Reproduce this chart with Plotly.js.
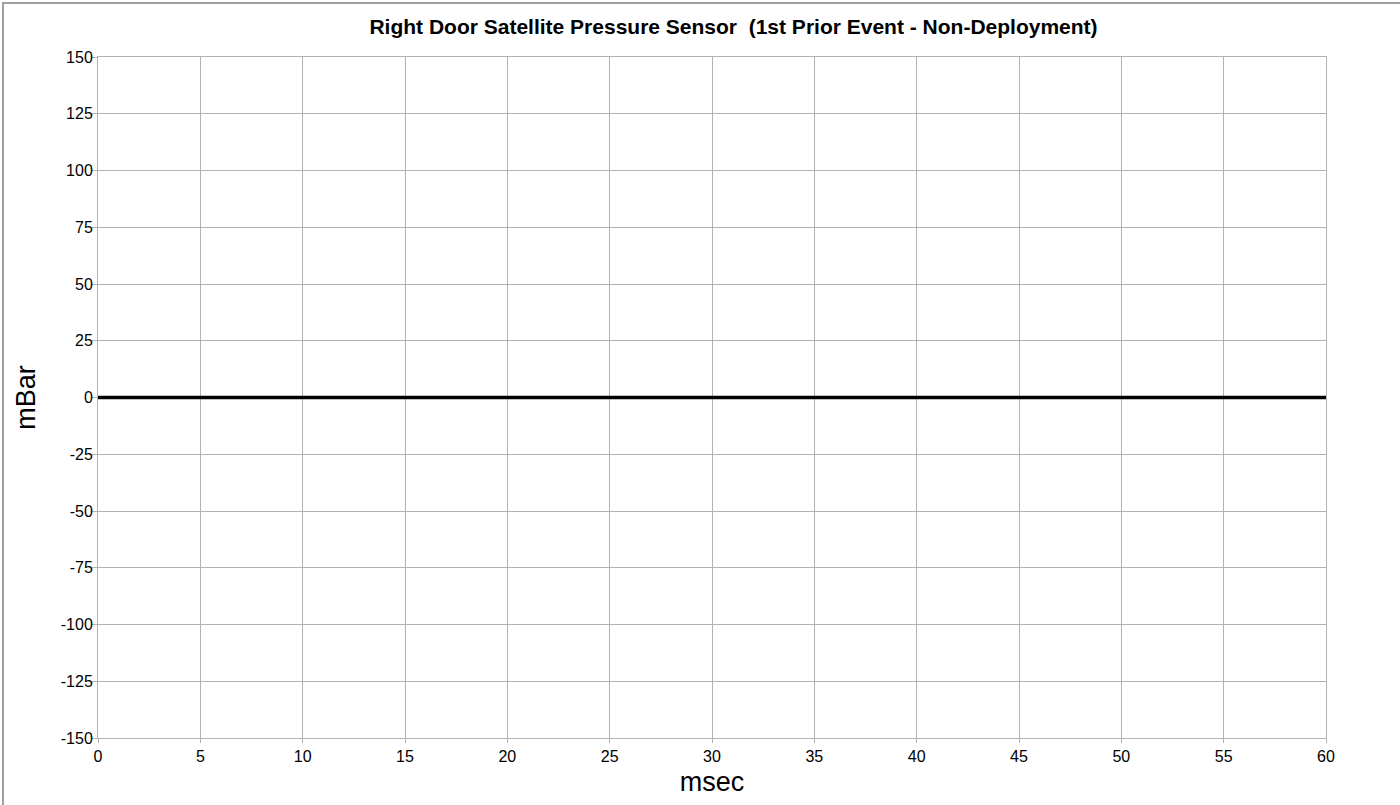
<!DOCTYPE html>
<html>
<head>
<meta charset="utf-8">
<script src="https://cdn.plot.ly/plotly-3.0.1.min.js"></script>
<style>
html,body{margin:0;padding:0;background:#fff;}
#wrap{position:relative;width:1400px;height:805px;overflow:hidden;}
#chart{position:absolute;left:0;top:0;width:1400px;height:805px;}
#frame{position:absolute;left:2px;top:2px;width:1400px;height:805px;border-top:2px solid #a0a0a0;border-left:2px solid #a0a0a0;pointer-events:none;}
</style>
</head>
<body>
<div id="wrap"><div id="chart"></div><div id="frame"></div></div>
<script>
const timeMs = [0,1,2,3,4,5,6,7,8,9,10,11,12,13,14,15,16,17,18,19,20,21,22,23,24,25,26,27,28,29,30,31,32,33,34,35,36,37,38,39,40,41,42,43,44,45,46,47,48,49,50,51,52,53,54,55,56,57,58,59,60];
const pressureMbar = [0,0,0,0,0,0,0,0,0,0,0,0,0,0,0,0,0,0,0,0,0,0,0,0,0,0,0,0,0,0,0,0,0,0,0,0,0,0,0,0,0,0,0,0,0,0,0,0,0,0,0,0,0,0,0,0,0,0,0,0,0];
const xTicks = [0,5,10,15,20,25,30,35,40,45,50,55,60];
const yTicks = [-150,-125,-100,-75,-50,-25,0,25,50,75,100,125,150];
const chartTitle = "Right Door Satellite Pressure Sensor&nbsp;&nbsp;(1st Prior Event - Non-Deployment)";

const font = 'Liberation Sans, Arial, sans-serif';
const grid = '#b3b3b3';

Plotly.newPlot('chart', [{
  x: timeMs, y: pressureMbar, type: 'scatter', mode: 'lines',
  line: {color: '#000000', width: 3.5}, hoverinfo: 'skip'
}], {
  width: 1400, height: 805,
  margin: {l: 98, r: 74, t: 57, b: 67, pad: 0},
  paper_bgcolor: '#ffffff', plot_bgcolor: '#ffffff',
  showlegend: false,
  title: {text: chartTitle, font: {family: font, size: 21, color: '#000', weight: 'bold'}, x: 733.5/1400, xanchor: 'center', y: 1 - 27/805, yanchor: 'middle'},
  xaxis: {
    range: [0, 60], tickvals: xTicks, ticktext: xTicks.map(String),
    showgrid: true, gridcolor: grid, gridwidth: 1, zeroline: false,
    showline: true, linecolor: grid, linewidth: 1, mirror: true,
    ticks: 'outside', ticklen: 4, tickcolor: grid, tickwidth: 1,
    tickfont: {family: font, size: 16, color: '#000'},
    title: {text: 'msec', font: {family: font, size: 27, color: '#000'}, standoff: 7}
  },
  yaxis: {
    range: [-150, 150], tickvals: yTicks, ticktext: yTicks.map(String),
    showgrid: true, gridcolor: grid, gridwidth: 1, zeroline: false,
    showline: true, linecolor: grid, linewidth: 1, mirror: true,
    ticks: 'outside', ticklen: 5, tickcolor: grid, tickwidth: 1,
    ticklabelstandoff: -4,
    tickfont: {family: font, size: 16, color: '#000'},
    title: {text: 'mBar', font: {family: font, size: 27, color: '#000'}, standoff: 17}
  }
}, {displayModeBar: false, staticPlot: true});
</script>
</body>
</html>
